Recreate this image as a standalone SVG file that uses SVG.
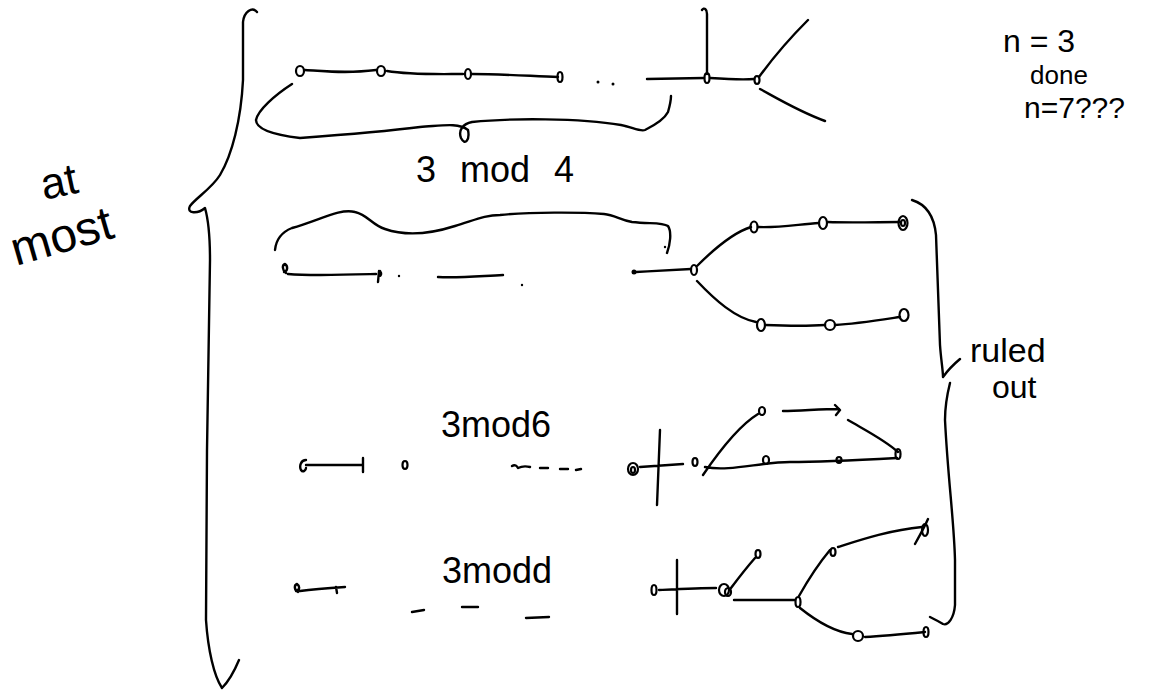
<svg xmlns="http://www.w3.org/2000/svg" width="1173" height="691" viewBox="0 0 1173 691">
<style>
.s{fill:none;stroke:#000;stroke-width:2.4;stroke-linecap:round;stroke-linejoin:round}
.n{fill:none;stroke:#000;stroke-width:2.2}
.d{fill:#000}
.t{font-family:"Liberation Sans","DejaVu Sans",sans-serif;fill:#000;font-weight:normal}
</style>
<rect width="1173" height="691" fill="#fff"/>
<g id="notes">
<text class="t" x="1003" y="52" font-size="32">n = 3</text>
<text class="t" x="1030" y="84" font-size="26">done</text>
<text class="t" x="1024" y="118" font-size="30">n=7???</text>
<text class="t" x="44" y="200" font-size="44" transform="rotate(-12 44 200)">at</text>
<text class="t" x="16" y="266" font-size="48" transform="rotate(-16 16 266)">most</text>
<text class="t" x="970" y="362" font-size="34">ruled</text>
<text class="t" x="992" y="398" font-size="32">out</text>
</g>
<g id="left-brace">
<path class="s" d="M257 12 C252 6 244 12 243 22 L243 80 C241 120 232 155 220 175 C212 188 196 198 190 206 C186 214 198 214 205 208 C209 222 210 240 210 260 L207 450 L206 620 C208 650 214 676 222 688 C228 682 234 672 239 660"/>
</g>
<g id="right-brace">
<path class="s" d="M912 200 C925 204 934 214 936 235 L940 345 C941 360 943 370 943 377 C948 370 954 364 960 359 M950 383 C947 395 945 410 945 420 C948 480 954 520 955 560 L955 605 C954 618 948 626 943 624 C938 621 934 619 930 617"/>
</g>
<g id="row1">
<text class="t" x="416" y="182" font-size="36" word-spacing="14">3 mod 4</text>
<g id="r1-nodes">
<ellipse class="n" cx="300" cy="71" rx="4" ry="5"/>
<ellipse class="n" cx="381" cy="71" rx="4" ry="5"/>
<ellipse class="n" cx="468" cy="74" rx="3" ry="5"/>
<ellipse class="n" cx="560" cy="77" rx="2.5" ry="5"/>
<circle class="d" cx="598" cy="82" r="1.5"/>
<circle class="d" cx="613" cy="84" r="1.5"/>
<ellipse class="n" cx="707" cy="78" rx="2.5" ry="5"/>
<ellipse class="n" cx="757" cy="80" rx="2.5" ry="4"/>
</g>
<g id="r1-edges">
<path class="s" d="M305 70 C325 71 345 74 376 70 M387 71 C410 75 440 74 463 74 M472 74 C500 74 530 76 558 77 M647 79 L704 78 M710 78 C725 79 742 80 754 79 M707 74 L707 14 C707 9 704 7 702 10 M759 77 C775 55 790 38 808 20 M760 89 C780 100 800 112 825 121"/>
<path class="s" d="M292 84 C275 95 258 110 256 120 C256 130 275 135 300 138 C340 135 380 132 420 127 C440 126 458 122 468 130 C470 140 465 146 461 138 C458 130 463 124 472 122 C510 118 580 118 621 125 C632 127 640 132 645 130 C655 125 665 118 668 112 C670 105 671 100 671 96"/>
</g>
</g>
<g id="row2">
<path class="s" d="M275 250 C276 240 282 232 292 228 C320 220 340 208 355 212 C368 215 372 225 385 229 C405 236 430 234 455 226 C475 220 485 215 500 215 C530 212 580 212 604 214 C615 215 620 220 632 222 C650 224 662 222 668 226 C672 232 670 245 667 253"/>
<circle class="d" cx="665" cy="247" r="1.2"/>
<path class="s" d="M286 273 C282 270 282 265 285 264 C288 266 288 271 284 272 M288 274 C310 276 340 275 376 274 M379 271 L378 282 M380 271 C382 274 381 276 379 276 M438 277 C460 278 480 276 503 275"/>
<circle class="d" cx="399" cy="276" r="1.2"/>
<circle class="d" cx="522" cy="285" r="1.2"/>
<circle class="d" cx="634" cy="272" r="2.5"/>
<path class="s" d="M636 272 C655 271 675 270 691 269 M697 266 C715 248 735 232 751 227 M697 281 C715 300 735 318 756 322 M758 227 C780 228 800 224 819 223 M828 222 C850 223 880 222 900 222 M765 325 C790 326 810 326 825 325 M835 325 C855 324 880 320 900 317"/>
<ellipse class="n" cx="694" cy="270" rx="3" ry="5"/>
<ellipse class="n" cx="754" cy="227" rx="3.5" ry="5.5"/>
<ellipse class="n" cx="823" cy="223" rx="4" ry="6"/>
<ellipse class="n" cx="903" cy="223" rx="4.5" ry="7"/>
<ellipse class="n" cx="903" cy="223" rx="2" ry="3"/>
<ellipse class="n" cx="761" cy="325" rx="4" ry="6"/>
<ellipse class="n" cx="830" cy="325" rx="5" ry="5"/>
<ellipse class="n" cx="904" cy="315" rx="4.5" ry="6"/>
</g>
<g id="row3">
<text class="t" x="441" y="437" font-size="36">3mod6</text>
<path class="s" d="M306 460 C301 460 299 466 301 470 C303 473 306 470 306 468 M306 465 L362 465 M363 458 L363 472 M512 466 C515 464 517 466 518 468 C522 466 526 466 530 467 M540 468 L548 468 M560 469 L568 469 M576 470 L581 469"/>
<ellipse class="n" cx="405" cy="465" rx="2.5" ry="4"/>
<ellipse class="n" cx="633" cy="469" rx="5" ry="6"/>
<ellipse class="n" cx="633" cy="470" rx="2" ry="3"/>
<path class="s" d="M640 467 C655 466 670 465 683 464 M660 430 L657 505"/>
<ellipse class="n" cx="695" cy="462" rx="2.5" ry="4"/>
<path class="s" d="M703 475 C720 450 740 425 758 414 M783 411 C800 411 820 409 839 409 M835 405 L840 410 L836 415 M848 420 C865 430 885 440 898 452 M705 467 C730 472 760 462 790 462 C820 462 860 460 897 458"/>
<ellipse class="n" cx="762" cy="411" rx="3" ry="4"/>
<ellipse class="n" cx="766" cy="460" rx="3" ry="4"/>
<ellipse class="n" cx="839" cy="460" rx="2.5" ry="3"/>
<ellipse class="n" cx="898" cy="454" rx="2.5" ry="5"/>
</g>
<g id="row4">
<text class="t" x="442" y="583" font-size="36">3modd</text>
<path class="s" d="M298 592 C294 590 294 585 297 584 C300 586 300 590 296 591 M300 591 C315 589 330 588 345 587 M336 587 L337 593 M412 612 L424 610 M462 607 L478 607 M526 618 L549 617"/>
<ellipse class="n" cx="654" cy="590" rx="2.5" ry="5"/>
<path class="s" d="M659 590 C680 589 700 588 716 588 M677 560 L677 614"/>
<ellipse class="n" cx="724" cy="590" rx="5" ry="6"/>
<ellipse class="n" cx="728" cy="592" rx="3" ry="4"/>
<path class="s" d="M731 588 C740 576 748 566 755 558 M734 600 C760 600 780 600 795 600 M799 596 C808 580 820 562 830 550 M838 547 C860 540 890 530 922 527 M915 544 C920 535 925 526 928 519 M800 608 C815 620 835 632 852 634 M865 637 C885 636 905 634 925 632"/>
<ellipse class="n" cx="758" cy="554" rx="2.5" ry="4"/>
<ellipse class="n" cx="798" cy="602" rx="2.5" ry="5"/>
<ellipse class="n" cx="833" cy="552" rx="2.5" ry="4"/>
<ellipse class="n" cx="925" cy="530" rx="3" ry="6"/>
<ellipse class="n" cx="858" cy="636" rx="5" ry="5"/>
<ellipse class="n" cx="926" cy="632" rx="2.5" ry="5"/>
</g>
</svg>
